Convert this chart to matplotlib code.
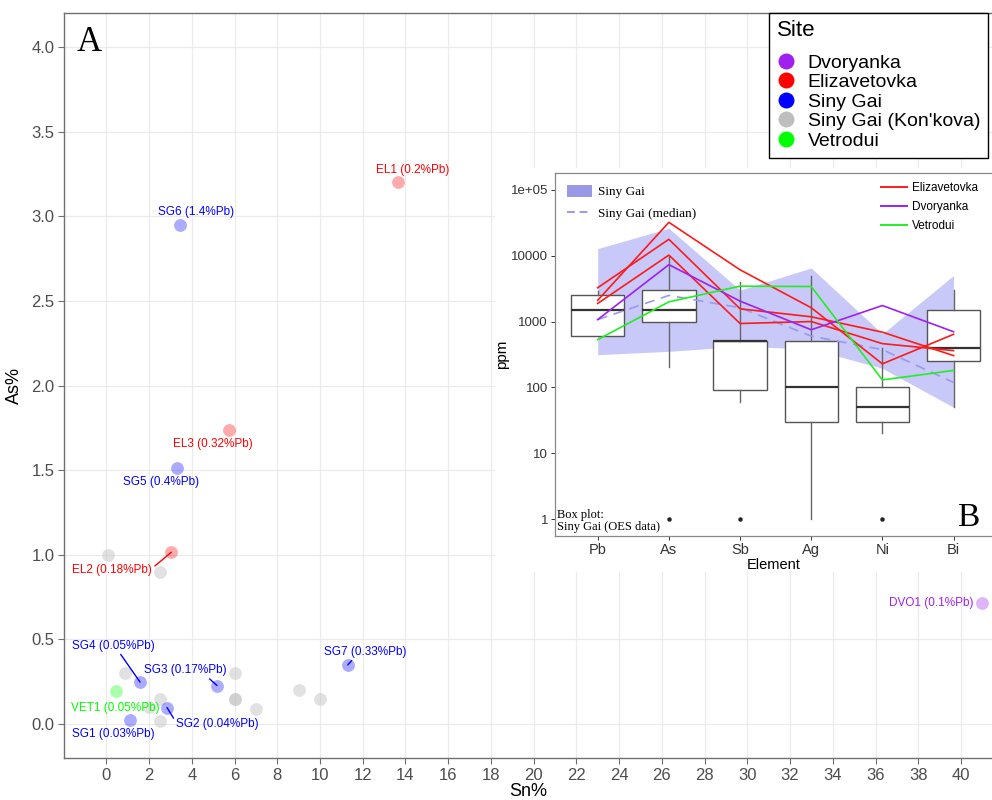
import matplotlib
matplotlib.use('Agg')
import matplotlib.pyplot as plt
from matplotlib.lines import Line2D
from matplotlib.patches import Patch, Rectangle
import numpy as np

plt.rcParams['font.family'] = ['Liberation Sans', 'DejaVu Sans']
SERIF = ['Liberation Serif', 'DejaVu Serif']

# ---------------- main scatter (panel A) data ----------------
sites = ['Dvoryanka', 'Elizavetovka', 'Siny Gai', "Siny Gai (Kon'kova)", 'Vetrodui']
site_colors = ['#A020F0', '#FF0000', '#0000FF', '#BEBEBE', '#00FF00']

# unlabelled Kon'kova samples (Sn%, As%)
konkova_sn = [0.07, 2.51, 0.89, 6.0, 6.0, 6.0, 2.51, 2.0, 2.51, 7.0, 9.0, 10.0]
konkova_as = [1.00, 0.90, 0.30, 0.30, 0.15, 0.15, 0.15, 0.10, 0.02, 0.09, 0.20, 0.15]

# labelled samples
lab_text = ['SG1 (0.03%Pb)', 'SG2 (0.04%Pb)', 'SG3 (0.17%Pb)', 'SG4 (0.05%Pb)',
            'SG5 (0.4%Pb)', 'SG6 (1.4%Pb)', 'SG7 (0.33%Pb)',
            'EL1 (0.2%Pb)', 'EL2 (0.18%Pb)', 'EL3 (0.32%Pb)',
            'VET1 (0.05%Pb)', 'DVO1 (0.1%Pb)']
lab_site = ['Siny Gai'] * 7 + ['Elizavetovka'] * 3 + ['Vetrodui', 'Dvoryanka']
lab_sn = [1.11, 2.84, 5.18, 1.58, 3.32, 3.45, 11.3, 13.63, 3.04, 5.76, 0.47, 41.0]
lab_as = [0.024, 0.098, 0.228, 0.248, 1.51, 2.95, 0.35, 3.20, 1.015, 1.737, 0.198, 0.718]
# label text anchor positions (data coords)
lab_tx = [0.33, 5.21, 3.68, 0.35, 2.56, 4.18, 12.1, 14.35, 2.14, 4.98, 0.44, 40.6]
lab_ty = [-0.061, -0.002, 0.319, 0.464, 1.430, 3.025, 0.427, 3.27, 0.913, 1.656, 0.096, 0.718]
lab_ha = ['center', 'center', 'center', 'center', 'center', 'center', 'center',
          'center', 'right', 'center', 'center', 'right']
lab_seg = [None, (0.0, 0.65), (0.76, 0.0), (0.56, 0.0), None, None, (0.37, 0.0),
           None, (1.0, 0.6), None, None, None]

x_ticks = list(range(0, 41, 2))
y_ticks = [0.0, 0.5, 1.0, 1.5, 2.0, 2.5, 3.0, 3.5, 4.0]

# ---------------- inset (panel B) data ----------------
elements = ['Pb', 'As', 'Sb', 'Ag', 'Ni', 'Bi']
sg_upper = [12800, 26000, 3000, 6500, 650, 5000]
sg_lower = [314, 353, 420, 384, 195, 50]
sg_median = [1070, 2490, 1620, 600, 375, 119]
eliz_1 = [2100, 32000, 6100, 1620, 228, 640]
eliz_2 = [3260, 17700, 1560, 1180, 690, 304]
eliz_3 = [1880, 10200, 933, 1000, 462, 362]
dvor = [1070, 7290, 2040, 750, 1750, 700]
vetr = [532, 1990, 3440, 3400, 130, 181]

box_q1 = [605, 1000, 91, 30, 30, 252]
box_med = [1490, 1500, 500, 100, 50, 402]
box_q3 = [2510, 2990, 501, 500, 100, 1490]
box_lo = [605, 204, 60, 1, 20, 50]
box_hi = [2950, 10000, 3960, 4970, 398, 2990]
box_out = [[], [1], [1], [], [1], []]

log_ticks = [1, 10, 100, 1000, 10000, 100000]
log_tick_labels = ['1', '10', '100', '1000', '10000', '1e+05']

# ================= figure =================
W, H = 992, 800
fig = plt.figure(figsize=(W / 100, H / 100), dpi=100)
fig.patch.set_facecolor('white')

def fx(px):
    return px / W

def fy(py):
    return 1 - py / H

ax = fig.add_axes([fx(64), fy(758), fx(992) - fx(64), fy(13) - fy(758)])
ax.set_zorder(0)
ax.set_xlim(-1.98, 41.45)
ax.set_ylim(-0.2, 4.2)
ax.set_xticks(x_ticks)
ax.set_yticks(y_ticks)
ax.set_yticklabels(['%.1f' % v for v in y_ticks])
ax.grid(True, color='#EBEBEB', lw=0.9)
ax.set_axisbelow(True)
for s in ['left', 'bottom', 'top']:
    ax.spines[s].set_color('#707070')
    ax.spines[s].set_linewidth(1.0)
ax.spines['right'].set_visible(False)
ax.tick_params(axis='both', colors='#707070', labelcolor='#4D4D4D', labelsize=12,
               length=4, width=0.8, pad=3)
ax.set_xlabel('Sn%', fontsize=13, color='black', labelpad=0)
ax.set_ylabel('As%', fontsize=13, color='black', labelpad=6)

color_of = dict(zip(sites, site_colors))
ax.scatter(konkova_sn, konkova_as, s=85, color=color_of["Siny Gai (Kon'kova)"],
           alpha=0.45, linewidths=0, zorder=2)
for i in range(len(lab_text)):
    c = color_of[lab_site[i]]
    ax.scatter([lab_sn[i]], [lab_as[i]], s=85, color=c, alpha=0.33, linewidths=0, zorder=3)
    kw = dict(color=c, fontsize=8.5, ha=lab_ha[i], va='center', zorder=4)
    if lab_seg[i] is not None:
        ax.annotate(lab_text[i], xy=(lab_sn[i], lab_as[i]), xytext=(lab_tx[i], lab_ty[i]),
                    arrowprops=dict(arrowstyle='-', color=c, lw=1.0, shrinkA=0, shrinkB=0,
                                    relpos=lab_seg[i]), **kw)
    else:
        ax.text(lab_tx[i], lab_ty[i], lab_text[i], **kw)

ax.text(0.014, 0.96, 'A', transform=ax.transAxes, fontsize=25, family=SERIF,
        ha='left', va='center')

# legend of panel A
handles = [Line2D([], [], marker='o', ls='none', markersize=11.5, markerfacecolor=c,
                  markeredgewidth=0, label=s) for s, c in zip(sites, site_colors)]
leg = fig.legend(handles=handles, title='Site', loc='upper left',
                 bbox_to_anchor=(fx(768.7), fy(12.7)), borderaxespad=0,
                 fontsize=14, title_fontsize=16, alignment='left',
                 frameon=True, fancybox=False, edgecolor='black', framealpha=1,
                 labelspacing=0.1, handlelength=1.0, handletextpad=0.6,
                 borderpad=0.4)
leg.get_frame().set_linewidth(1.0)
leg._legend_box.sep = 9
leg.set_zorder(5)

# white background of inset
fig.add_artist(Rectangle((fx(495), fy(572)), fx(992) - fx(495), fy(168) - fy(572),
                         transform=fig.transFigure, facecolor='white', edgecolor='none',
                         zorder=0.5))

# ================= inset (panel B) =================
axb = fig.add_axes([fx(555), fy(535.7), fx(992) - fx(555), fy(173) - fy(535.7)])
axb.set_zorder(1)
pos = np.arange(len(elements))
axb.set_yscale('log')
axb.set_xlim(-0.6, 5.54)
axb.set_ylim(10 ** -0.25, 10 ** 5.254)

axb.fill_between(pos, sg_lower, sg_upper, color='#7070F0', alpha=0.38, linewidth=0, zorder=1)

stats = []
for i in range(len(elements)):
    stats.append(dict(q1=box_q1[i], med=box_med[i], q3=box_q3[i],
                      whislo=box_lo[i], whishi=box_hi[i], fliers=box_out[i]))
axb.bxp(stats, positions=pos, widths=0.75, showcaps=False, patch_artist=True,
        boxprops=dict(facecolor='white', edgecolor='#555555', linewidth=1.0),
        whiskerprops=dict(color='#666666', linewidth=1.0),
        medianprops=dict(color='#333333', linewidth=1.6),
        flierprops=dict(marker='o', markersize=2.2, markerfacecolor='#222222',
                        markeredgecolor='#222222'),
        zorder=2)

axb.plot(pos, sg_median, color='#9999EE', lw=1.2, dashes=(6, 4), zorder=3)
for series in (eliz_1, eliz_2, eliz_3):
    axb.plot(pos, series, color='#FF1A1A', lw=1.2, zorder=4)
axb.plot(pos, dvor, color='#A020F0', lw=1.2, zorder=4)
axb.plot(pos, vetr, color='#22EE22', lw=1.2, zorder=4)

axb.set_xticks(pos)
axb.set_xticklabels(elements)
axb.set_yticks(log_ticks)
axb.set_yticklabels(log_tick_labels)
axb.minorticks_off()
axb.tick_params(axis='both', labelsize=9.5, colors='#333333', length=3, width=0.7, pad=2)
axb.tick_params(axis='x', labelsize=10.5)
for s in axb.spines.values():
    s.set_color('#888888')
    s.set_linewidth(0.9)
axb.spines['right'].set_visible(False)
axb.set_xlabel('Element', fontsize=10.5, labelpad=1)
axb.set_ylabel('ppm', fontsize=11, labelpad=1)

# inset legends
h1 = [Patch(facecolor='#9999E6', edgecolor='none', label='Siny Gai'),
      Line2D([], [], color='#9999EE', lw=1.4, dashes=(4, 2.5), label='Siny Gai (median)')]
leg1 = axb.legend(handles=h1, loc='upper left', bbox_to_anchor=(0.01, 0.99), frameon=False,
                  prop=dict(family=SERIF, size=9.5), handlelength=1.9, handleheight=1.1,
                  handletextpad=0.4, labelspacing=0.6, borderaxespad=0.2)
axb.add_artist(leg1)
h2 = [Line2D([], [], color='#FF1A1A', lw=1.4, label='Elizavetovka'),
      Line2D([], [], color='#A020F0', lw=1.4, label='Dvoryanka'),
      Line2D([], [], color='#22EE22', lw=1.4, label='Vetrodui')]
axb.legend(handles=h2, loc='upper left', bbox_to_anchor=(0.73, 0.995), frameon=False,
           fontsize=8.5, handlelength=2.2, handletextpad=0.45, labelspacing=0.6,
           borderaxespad=0.2)

axb.text(0.005, 0.04, 'Box plot:\nSiny Gai (OES data)', transform=axb.transAxes,
         family=SERIF, fontsize=9, ha='left', va='center', linespacing=1.05)
axb.text(0.945, 0.05, 'B', transform=axb.transAxes, family=SERIF, fontsize=24,
         ha='center', va='center')

fig.savefig('out.png', dpi=100, facecolor='white')
